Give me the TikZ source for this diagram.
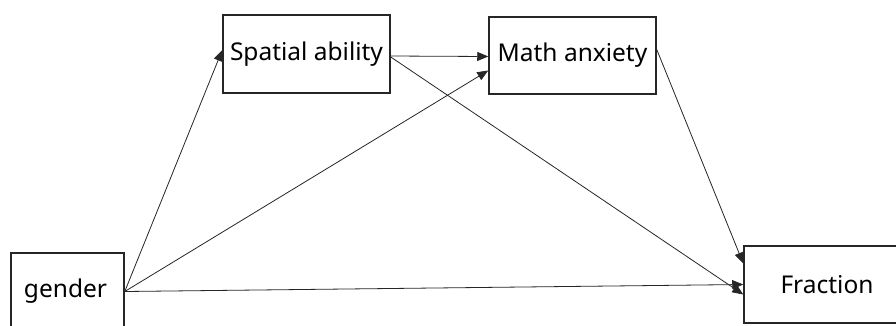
\documentclass[tikz,border=0pt]{standalone}
\usepackage{fontspec}
\setmainfont{Noto Sans}
\usetikzlibrary{arrows.meta}
\begin{document}
\begin{tikzpicture}[x=1pt,y=-1pt,
  box/.style={draw=black!85, line width=1.5pt, rectangle, inner sep=0pt, font=\fontsize{24.5}{29}\selectfont},
  conn/.style={draw=black!85, line width=0.8pt, -{Triangle[length=11pt,width=9pt]}}]
\useasboundingbox (0,0) rectangle (896,325);
\clip (0,0) rectangle (896,325);
\fill[white] (0,0) rectangle (896,325);
\node[box, minimum width=113pt, minimum height=77pt, text width=113pt, align=center] (gender) at (67.5,291.5) {\hspace*{-4pt}gender};
\node[box, minimum width=167pt, minimum height=78pt] (spatial) at (306.5,54) {\raisebox{-3pt}{Spatial ability}};
\node[box, minimum width=167pt, minimum height=77pt] (math) at (572.5,55.5) {\raisebox{-2pt}{Math anxiety}};
\node[box, minimum width=166pt, minimum height=77pt] (fraction) at (827,284.5) {\raisebox{-2pt}{Fraction}};
\draw[conn] (gender.east) -- ([yshift=4pt]spatial.west);
\draw[conn] (gender.east) -- ([yshift=-15pt]math.west);
\draw[conn] (gender.east) -- (fraction.west);
\draw[conn] ([yshift=-2pt]spatial.east) -- ([yshift=-1pt]math.west);
\draw[conn] ([yshift=-3pt]spatial.east) -- ([yshift=-10pt]fraction.west);
\draw[conn] ([yshift=6pt]math.east) -- ([yshift=21pt]fraction.west);
\end{tikzpicture}
\end{document}
